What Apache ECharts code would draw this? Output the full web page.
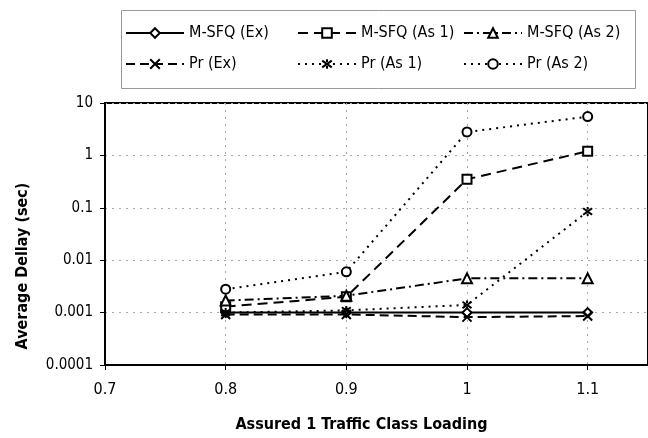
<!DOCTYPE html>
<html>
<head>
<meta charset="utf-8">
<script src="https://cdn.jsdelivr.net/npm/echarts@6/dist/echarts.min.js"></script>
<style>html,body{margin:0;padding:0;background:#fff}#c{width:648px;height:438px}</style>
</head>
<body>
<div id="c"></div>
<script>
// ---- data ----
var xValues = [0.8, 0.9, 1.0, 1.1];
var msfqEx  = [0.001, 0.001, 0.001, 0.001];
var msfqAs1 = [0.0013, 0.002, 0.35, 1.2];
var msfqAs2 = [0.0017, 0.0021, 0.0045, 0.0045];
var prEx    = [0.00092, 0.00092, 0.00082, 0.00086];
var prAs1   = [0.001, 0.0011, 0.0014, 0.085];
var prAs2   = [0.0028, 0.006, 2.8, 5.5];
var seriesNames = ['M-SFQ (Ex)', 'M-SFQ (As 1)', 'M-SFQ (As 2)', 'Pr (Ex)', 'Pr (As 1)', 'Pr (As 2)'];
var xTickLabels = ['0.7', '0.8', '0.9', '1', '1.1'];
var yTickLabels = ['0.0001', '0.001', '0.01', '0.1', '1', '10'];
var xTitle = 'Assured 1 Traffic Class Loading';
var yTitle = 'Average Dellay (sec)';

var FONT = "'Liberation Sans Narrow', 'DejaVu Sans Condensed', 'Liberation Sans', sans-serif";

function pairs(arr) { return xValues.map(function (x, i) { return [x, arr[i]]; }); }

var XPATH = 'path://M0,0L10,10M10,0L0,10';
var ASTPATH = 'path://M0,0L10,10M10,0L0,10M5,-2L5,2M5,8L5,12';

function mk(name, data, dash, symbol, size) {
  return {
    name: name, type: 'line', data: pairs(data),
    symbol: symbol, symbolSize: size, showSymbol: true,
    lineStyle: { color: '#000', width: 2, type: dash },
    itemStyle: { color: '#000', borderColor: '#000', borderWidth: 2 },
    emphasis: { disabled: true },
    animation: false
  };
}

var series = [
  mk(seriesNames[0], msfqEx, 'solid', 'emptyDiamond', 9),
  mk(seriesNames[1], msfqAs1, [10, 6], 'emptyRect', 9),
  mk(seriesNames[2], msfqAs2, [9, 4, 2, 4], 'emptyTriangle', 10),
  mk(seriesNames[3], prEx, [9, 5], XPATH, 9),
  mk(seriesNames[4], prAs1, [2, 5], ASTPATH, 9),
  mk(seriesNames[5], prAs2, [2, 5], 'emptyCircle', 9)
];

function legendCol(left, names) {
  return {
    orient: 'vertical', left: left, top: 20, itemWidth: 58, itemHeight: 12, itemGap: 15,
    data: names, selectedMode: false,
    textStyle: { fontFamily: FONT, fontSize: 16, color: '#000' }
  };
}

var chart = echarts.init(document.getElementById('c'), null, { renderer: 'canvas' });
chart.setOption({
  backgroundColor: '#fff',
  animation: false,
  graphic: [{
    type: 'rect', left: 119, top: 8,
    shape: { width: 514, height: 78 },
    style: { fill: 'none', stroke: '#999', lineWidth: 1 }
  }],
  legend: [
    legendCol(120, [seriesNames[0], seriesNames[3]]),
    legendCol(292, [seriesNames[1], seriesNames[4]]),
    legendCol(458, [seriesNames[2], seriesNames[5]])
  ],
  grid: { left: 105, top: 103, width: 546, height: 267, show: true, borderColor: '#000', borderWidth: 2, backgroundColor: 'transparent' },
  xAxis: {
    type: 'value', min: 0.7, max: 1.15, interval: 0.1,
    name: xTitle, nameLocation: 'middle', nameGap: 52,
    nameTextStyle: { fontFamily: FONT, fontSize: 16, fontWeight: 'bold', color: '#000', padding: [0, 30, 0, 0] },
    axisLine: { lineStyle: { color: '#000', width: 2 } },
    axisTick: { show: true, length: 5, lineStyle: { color: '#000' } },
    axisLabel: {
      fontFamily: FONT, fontSize: 16, color: '#000', margin: 17, showMaxLabel: false,
      formatter: function (v) { var i = Math.round((v - 0.7) / 0.1); return xTickLabels[i] || ''; }
    },
    splitLine: { show: true, lineStyle: { color: '#aaa', type: [2, 5], width: 1 } }
  },
  yAxis: {
    type: 'log', logBase: 10, min: 0.0001, max: 10,
    name: yTitle, nameLocation: 'middle', nameGap: 74, nameRotate: 90,
    nameTextStyle: { fontFamily: FONT, fontSize: 16, fontWeight: 'bold', color: '#000', padding: [0, 64, 0, 0] },
    axisLine: { show: true, lineStyle: { color: '#000', width: 2 } },
    axisTick: { show: true, length: 5, lineStyle: { color: '#000' } },
    axisLabel: {
      fontFamily: FONT, fontSize: 15, color: '#000', margin: 12,
      formatter: function (v) { var i = Math.round(Math.log10(v) + 4); return yTickLabels[i] || ''; }
    },
    splitLine: { show: true, lineStyle: { color: '#aaa', type: [2, 5], width: 1 } },
    minorTick: { show: false }
  },
  series: series
});
</script>
</body>
</html>
